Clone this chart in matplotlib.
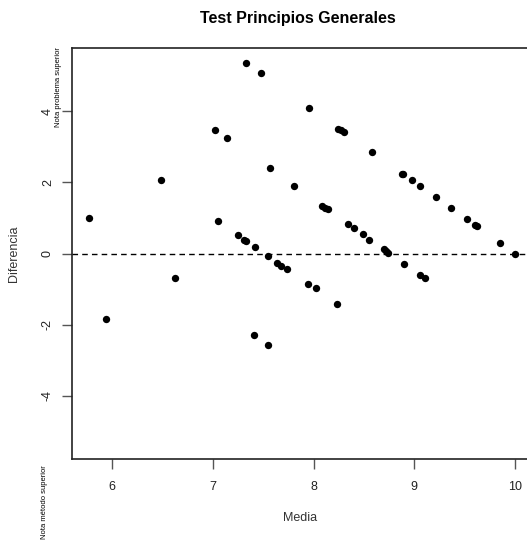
import matplotlib
matplotlib.use("Agg")
import matplotlib.pyplot as plt

media = [5.77, 5.94, 6.48, 6.62, 7.02, 7.05, 7.14, 7.25, 7.31, 7.33, 7.33, 7.42, 7.41,
         7.48, 7.55, 7.57, 7.55, 7.64, 7.68, 7.74, 7.81, 7.95, 7.94, 8.02, 8.23,
         8.24, 8.27, 8.30, 8.58, 8.08, 8.11, 8.14, 8.34, 8.40, 8.49, 8.55, 8.70,
         8.72, 8.74, 8.88, 8.89, 8.98, 9.06, 9.22, 9.37, 9.52, 9.60, 9.62, 9.85,
         10.0, 8.90, 9.06, 9.11]
diferencia = [0.99, -1.83, 2.06, -0.70, 3.47, 0.92, 3.25, 0.52, 0.39, 0.36, 5.35, 0.17, -2.30,
              5.07, -0.08, 2.40, -2.58, -0.26, -0.36, -0.45, 1.90, 4.10, -0.87, -0.98, -1.43,
              3.51, 3.46, 3.41, 2.85, 1.34, 1.29, 1.24, 0.84, 0.71, 0.56, 0.39, 0.14,
              0.08, 0.02, 2.25, 2.24, 2.06, 1.90, 1.59, 1.28, 0.96, 0.81, 0.78, 0.30,
              0.0, -0.29, -0.61, -0.70]
xticks = [6, 7, 8, 9, 10]
yticks = [-4, -2, 0, 2, 4]

plt.rcParams['font.family'] = ['Liberation Sans', 'DejaVu Sans']

fig = plt.figure(figsize=(5.27, 5.44), dpi=100)
ax = fig.add_axes([72/527, 1-459/544, 460/527, 411/544])
ax.scatter(media, diferencia, s=28, c='black', linewidths=0, zorder=3)
ax.axhline(0, color='black', linestyle=(0, (4, 3)), linewidth=1)
ax.set_xlim(5.60, 10.17)
ax.set_ylim(-5.78, 5.78)
ax.set_xticks(xticks)
ax.set_yticks(yticks)
ax.set_yticklabels([str(v) for v in yticks], rotation=90, va='center')
ax.tick_params(direction='out', length=7, width=1, labelsize=9, colors='#555555', labelcolor='#222222')
ax.tick_params(axis='x', pad=9)
ax.tick_params(axis='y', pad=6)
for s in ax.spines.values():
    s.set_linewidth(1.2)
    s.set_color('#222222')
fig.text(300/527, 1-518/544, 'Media', ha='center', va='center', fontsize=9, color='#333333')
fig.text(14/527, 1-254/544, 'Diferencia', rotation=90, ha='center', va='center', fontsize=9, color='#333333')
fig.text(298/527, 1-18/544, 'Test Principios Generales', ha='center', va='center',
         fontsize=11.5, fontweight='bold')
fig.text(59/527, 1-87/544, 'Nota problema superior', rotation=90, ha='center', va='center',
         fontsize=5.5, fontstretch='condensed')
fig.text(45/527, 1-502/544, 'Nota método superior', rotation=90, ha='center', va='center',
         fontsize=5.5, fontstretch='condensed')
fig.savefig('out.png', dpi=100)
